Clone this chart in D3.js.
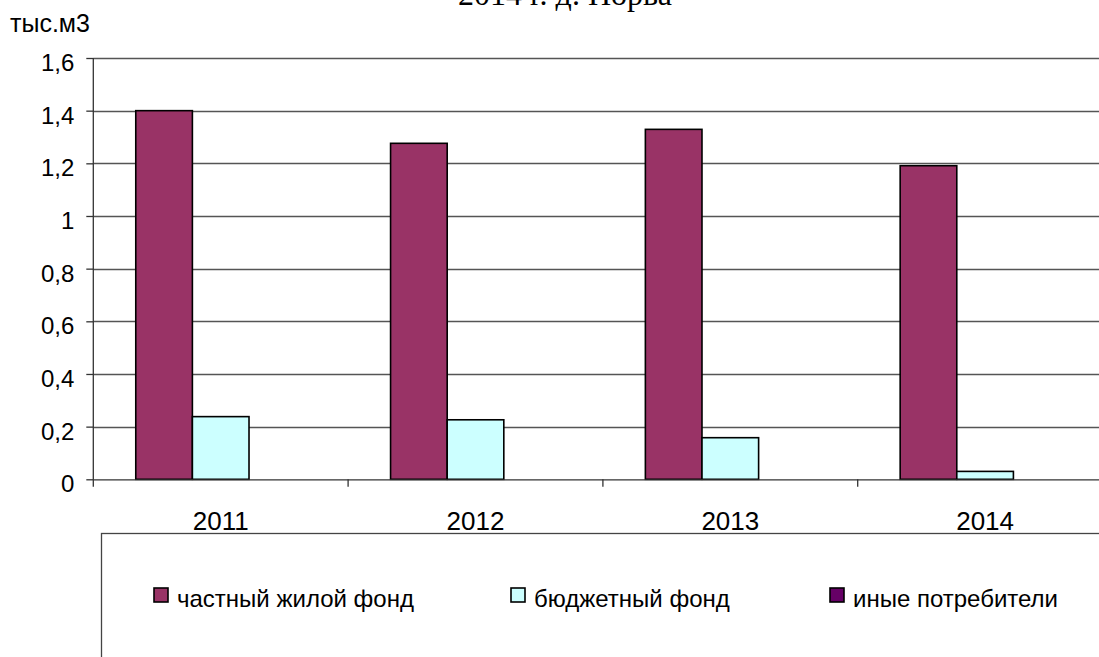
<!DOCTYPE html>
<html>
<head>
<meta charset="utf-8">
<script src="https://cdn.jsdelivr.net/npm/d3@7"></script>
<style>
  html, body { margin: 0; padding: 0; background: #fff; overflow: hidden; }
  svg { display: block; }
  text { font-family: "Liberation Sans", Arial, sans-serif; fill: #000; }
</style>
</head>
<body>
<script>
const titleText = "2014 г. д. Норва";
const unitLabel = "тыс.м3";
const categories = ["2011", "2012", "2013", "2014"];
const seriesNames = ["частный жилой фонд", "бюджетный фонд", "иные потребители"];
const seriesColors = ["#993366", "#CCFFFF", "#660066"];
const privateHousing = [1.40, 1.276, 1.329, 1.191];
const budgetFund = [0.238, 0.226, 0.158, 0.030];
const otherConsumers = [0, 0, 0, 0];
const yTicks = [0, 0.2, 0.4, 0.6, 0.8, 1, 1.2, 1.4, 1.6];

const seriesValues = [privateHousing, budgetFund, otherConsumers];

const W = 1099, H = 657;
const svg = d3.select("body").append("svg").attr("width", W).attr("height", H);

const x0 = 93.3, x1 = 1112.5, yBottom = 479.3, yTop = 58;

const x = d3.scaleBand().domain(categories).range([x0, x1]).paddingInner(0).paddingOuter(0);
const bw = x.bandwidth() / (seriesNames.length + 1.5);
const gapHalf = bw * 0.75;
const xs = d3.scaleBand().domain(d3.range(seriesNames.length))
  .range([gapHalf, gapHalf + bw * seriesNames.length]);
const y = d3.scaleLinear().domain([0, 1.6]).range([yBottom, yTop]);

// Title (partially cut at top, as in the reference)
svg.append("text").attr("x", 565).attr("y", 5)
  .attr("text-anchor", "middle")
  .style("font-family", "'Liberation Serif', 'Times New Roman', serif")
  .style("font-size", "32px")
  .text(titleText);

// Unit label
svg.append("text").attr("x", 10).attr("y", 32)
  .style("font-size", "25px")
  .text(unitLabel);

// Gridlines
svg.append("g").selectAll("line").data(yTicks.filter(d => d > 0)).join("line")
  .attr("x1", x0).attr("x2", x1)
  .attr("y1", d => Math.round(y(d)) + 0.5).attr("y2", d => Math.round(y(d)) + 0.5)
  .attr("stroke", "#555").attr("stroke-width", 1.3);

// Y axis
const yAxis = d3.axisLeft(y).tickValues(yTicks).tickSize(7).tickPadding(12)
  .tickFormat(d => d3.format("")(d).replace(".", ","));
const gy = svg.append("g").attr("transform", `translate(${x0},0)`).call(yAxis);
gy.select(".domain").remove();
gy.selectAll(".tick line").attr("stroke", "#333").attr("stroke-width", 1.3);
gy.selectAll(".tick text").style("font-size", "24px").attr("dy", "0.52em").attr("x", -19);
svg.append("line").attr("x1", x0).attr("x2", x0).attr("y1", yTop).attr("y2", yBottom + 7.5)
  .attr("stroke", "#333").attr("stroke-width", 1.3);

// Bars
const groups = svg.append("g").selectAll("g").data(categories).join("g")
  .attr("transform", d => `translate(${x(d)},0)`);
groups.selectAll("rect").data((c, i) => seriesValues.map((s, k) => ({ k, v: s[i] })).filter(d => d.v > 0))
  .join("rect")
  .attr("x", d => xs(d.k))
  .attr("width", xs.bandwidth())
  .attr("y", d => y(d.v))
  .attr("height", d => y(0) - y(d.v))
  .attr("fill", d => seriesColors[d.k])
  .attr("stroke", "#000").attr("stroke-width", 1.6);

// X axis
const xAxis = d3.axisBottom(x).tickSize(0).tickPadding(0);
const gx = svg.append("g").attr("transform", `translate(0,${yBottom})`).call(xAxis);
gx.select(".domain").attr("stroke", "#333").attr("stroke-width", 1.3);
gx.selectAll(".tick text").style("font-size", "26px").attr("y", 51).attr("dy", 0);
// category separator ticks
svg.append("g").selectAll("line").data(categories.slice(1).concat(["_end"])).join("line")
  .attr("x1", d => d === "_end" ? x1 : x(d)).attr("x2", d => d === "_end" ? x1 : x(d))
  .attr("y1", yBottom).attr("y2", yBottom + 7.5)
  .attr("stroke", "#333").attr("stroke-width", 1.3);

// Legend
svg.append("rect").attr("x", 101.5).attr("y", 533.5).attr("width", 1100).attr("height", 300)
  .attr("fill", "none").attr("stroke", "#444").attr("stroke-width", 1.3);
const legendX = [154, 511, 830];
const leg = svg.append("g").selectAll("g").data(seriesNames).join("g")
  .attr("transform", (d, i) => `translate(${legendX[i]},588)`);
leg.append("rect").attr("x", 0).attr("y", 0).attr("width", 14).attr("height", 14)
  .attr("fill", (d, i) => seriesColors[i]).attr("stroke", "#000").attr("stroke-width", 1.6);
leg.append("text").attr("x", 23).attr("y", 19).style("font-size", "24px").text(d => d);
</script>
</body>
</html>
